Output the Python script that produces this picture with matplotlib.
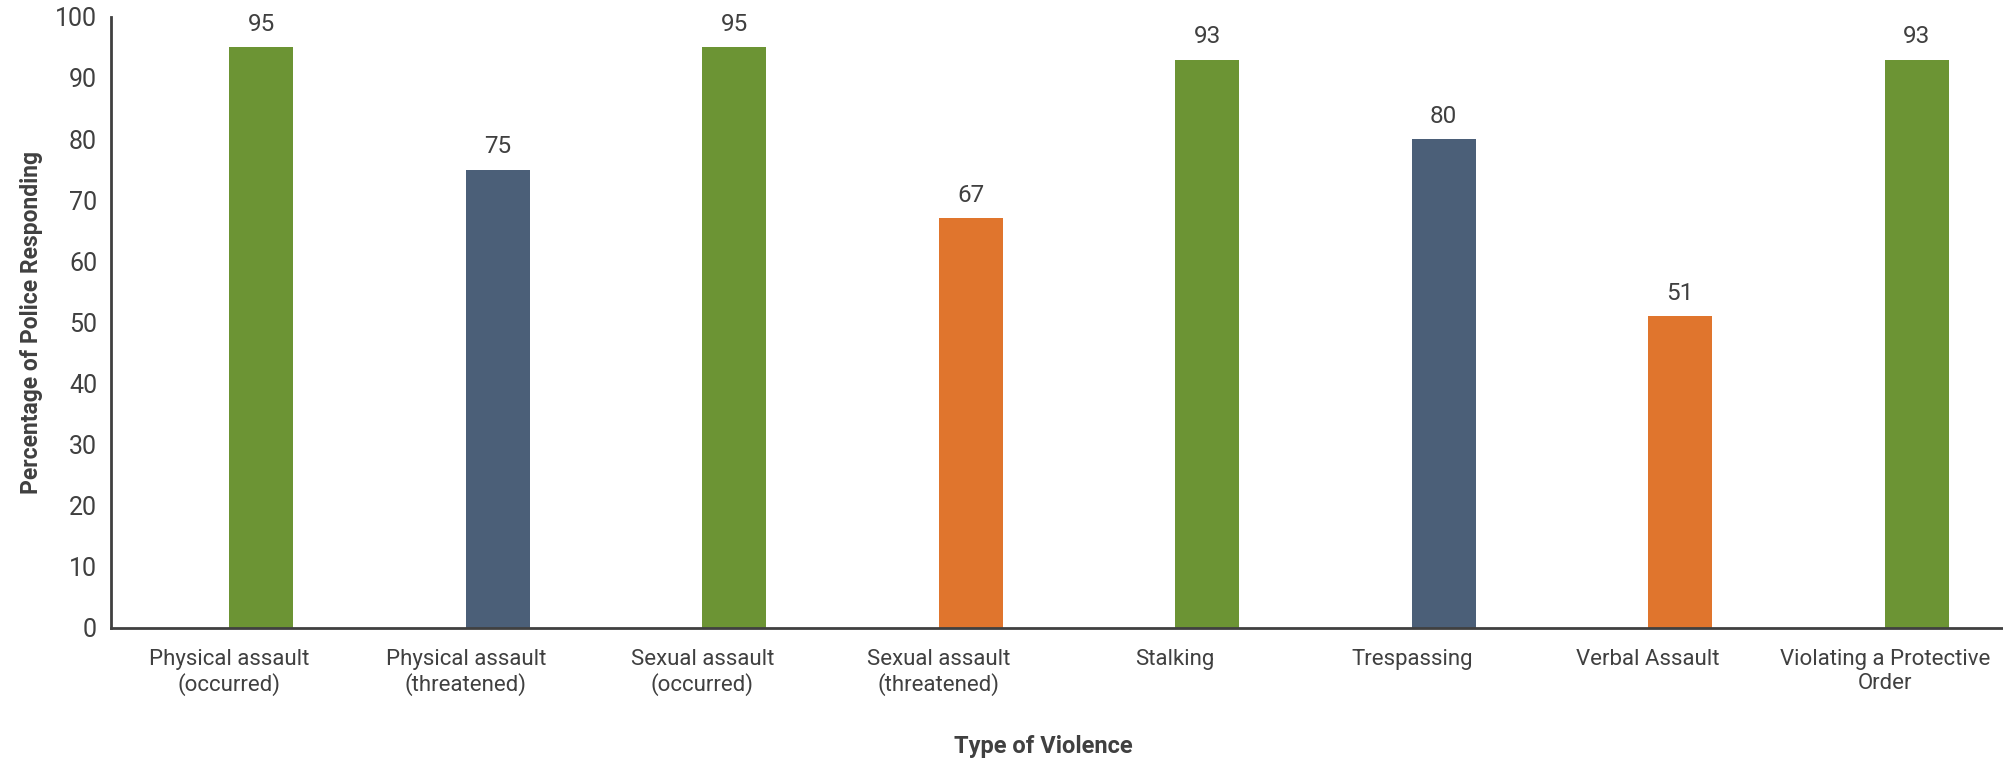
import matplotlib
matplotlib.use('Agg')
import matplotlib.pyplot as plt
import numpy as np

plt.rcParams['font.family'] = ['Roboto', 'DejaVu Sans']

categories = ['Physical assault\n(occurred)', 'Physical assault\n(threatened)',
              'Sexual assault\n(occurred)', 'Sexual assault\n(threatened)',
              'Stalking', 'Trespassing', 'Verbal Assault',
              'Violating a Protective\nOrder']
values = [95, 75, 95, 67, 93, 80, 51, 93]
bar_colors = ['#6C9434', '#4B5F78', '#6C9434', '#E0752D',
              '#6C9434', '#4B5F78', '#E0752D', '#6C9434']
y_ticks = [0, 10, 20, 30, 40, 50, 60, 70, 80, 90, 100]

text_color = '#404040'

fig = plt.figure(figsize=(20.03, 7.63), dpi=100)
ax = fig.add_axes([0.0554, 0.177, 0.9446, 0.801])

x = np.arange(len(categories))
# bars sit just right of the category centre, like an Excel clustered series
bars = ax.bar(x, values, width=0.27, align='edge', color=bar_colors)

for rect, v in zip(bars, values):
    ax.annotate(str(v), (rect.get_x() + rect.get_width() / 2, v),
                xytext=(0, 8), textcoords='offset points',
                ha='center', va='bottom', fontsize=17.5, color=text_color)

ax.set_xlim(-0.5, len(categories) - 0.5)
ax.set_ylim(0, 100)
ax.set_yticks(y_ticks)
ax.set_xticks(x)
ax.set_xticklabels(categories, fontsize=16, color=text_color, linespacing=1.2)
ax.tick_params(axis='y', labelsize=18, labelcolor=text_color, length=0, pad=10)
ax.tick_params(axis='x', length=0, pad=15)

for side in ['top', 'right']:
    ax.spines[side].set_visible(False)
for side in ['left', 'bottom']:
    ax.spines[side].set_color(text_color)
    ax.spines[side].set_linewidth(2)

ax.set_ylabel('Percentage of Police Responding', fontsize=16.5, fontweight='bold',
              color=text_color, labelpad=9)
fig.text(0.521, 0.006, 'Type of Violence', fontsize=17, fontweight='bold',
         color=text_color, ha='center', va='bottom')

fig.savefig('out.png', dpi=100, facecolor='white')
